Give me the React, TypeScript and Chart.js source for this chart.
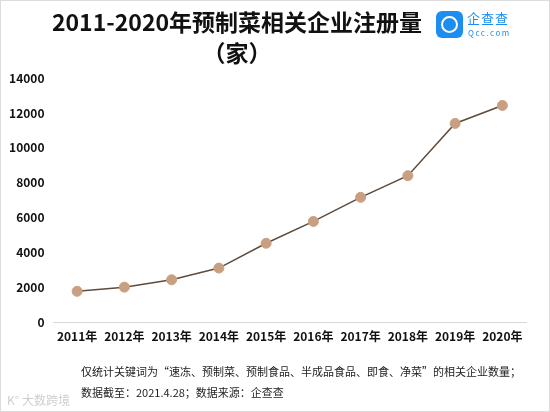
import React, { useEffect, useRef } from "react";
import { Chart, registerables } from "chart.js";

Chart.register(...registerables);

const years = ["2011年", "2012年", "2013年", "2014年", "2015年", "2016年", "2017年", "2018年", "2019年", "2020年"];
const counts = [1790, 2030, 2450, 3120, 4540, 5790, 7170, 8410, 11400, 12430];
const yTicks = [0, 2000, 4000, 6000, 8000, 10000, 12000, 14000];

const FONT = '"Noto Sans CJK SC", "Noto Sans", sans-serif';

export default function App() {
  const ref = useRef<HTMLCanvasElement | null>(null);

  useEffect(() => {
    if (!ref.current) return;
    const chart = new Chart(ref.current, {
      type: "line",
      data: {
        labels: years,
        datasets: [
          {
            data: counts,
            borderColor: "#5e4b3c",
            borderWidth: 1.5,
            pointBackgroundColor: "#c8a081",
            pointBorderColor: "#c8a081",
            pointRadius: 5,
            pointBorderWidth: 1,
            tension: 0,
          },
        ],
      },
      options: {
        animation: false,
        responsive: false,
        maintainAspectRatio: false,
        layout: { padding: { top: 78, bottom: 61, left: 0, right: 24 } },
        plugins: { legend: { display: false }, tooltip: { enabled: false }, title: { display: false } },
        scales: {
          x: {
            offset: true,
            grid: { display: false, drawTicks: false },
            border: { display: true, color: "#d9d9d9", width: 1 },
            ticks: { color: "#111", font: { family: FONT, size: 12, weight: "bold" }, padding: 7, maxRotation: 0, autoSkip: false },
          },
          y: {
            min: 0,
            max: 14000,
            afterBuildTicks: (axis: any) => {
              axis.ticks = yTicks.map((v) => ({ value: v }));
            },
            afterFit: (axis: any) => {
              axis.width = 53.5;
            },
            grid: { display: false, drawTicks: false },
            border: { display: false },
            ticks: {
              color: "#111",
              font: { family: FONT, size: 12, weight: "bold" },
              padding: 9,
              callback: (v: any) => String(v),
            },
          },
        },
      },
    });
    return () => chart.destroy();
  }, []);

  return (
    <div
      style={{
        position: "fixed",
        left: 0,
        top: 0,
        width: 550,
        height: 412,
        background: "#fff",
        boxSizing: "border-box",
        border: "1px solid #dcdcdc",
        fontFamily: FONT,
        overflow: "hidden",
      }}
    >
      <canvas ref={ref} width={550} height={412} style={{ position: "absolute", left: -1, top: -1 }} />
      <div
        style={{
          position: "absolute",
          left: 0,
          width: 472,
          top: 5,
          textAlign: "center",
          fontSize: 23,
          fontWeight: 700,
          color: "#111",
          lineHeight: "31px",
        }}
      >
        2011-2020年预制菜相关企业注册量
        <br />
        （家）
      </div>
      <div
        style={{
          position: "absolute",
          left: 435,
          top: 10,
          width: 27,
          height: 27,
          borderRadius: 6,
          background: "#1c8ef2",
        }}
      >
        <div
          style={{
            position: "absolute",
            left: 5,
            top: 5,
            width: 13,
            height: 13,
            borderRadius: "50%",
            border: "2.5px solid #fff",
          }}
        />
      </div>
      <div style={{ position: "absolute", left: 466, top: 9, fontSize: 13, color: "#1c8ef2", lineHeight: "16px", letterSpacing: 1 }}>
        企查查
      </div>
      <div style={{ position: "absolute", left: 467, top: 27, fontSize: 8, color: "#1c8ef2", lineHeight: "10px", letterSpacing: 1.5 }}>
        Qcc.com
      </div>
      <div style={{ position: "absolute", left: 80, top: 360, fontSize: 11, color: "#222", lineHeight: "21px", whiteSpace: "nowrap" }}>
        仅统计关键词为“速冻、预制菜、预制食品、半成品食品、即食、净菜”的相关企业数量；
        <br />
        数据截至：2021.4.28；数据来源：企查查
      </div>
      <div style={{ position: "absolute", left: 6, top: 392, fontSize: 12, color: "#cfcfcf", lineHeight: "14px" }}>
        K° 大数跨境
      </div>
    </div>
  );
}
